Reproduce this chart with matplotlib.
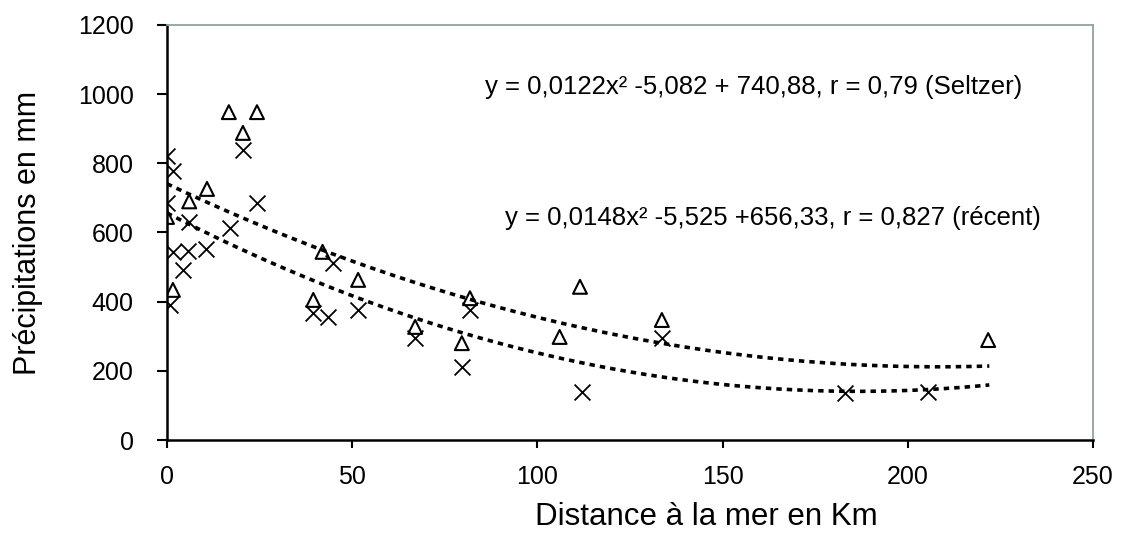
import numpy as np
import matplotlib
matplotlib.use("Agg")
import matplotlib.pyplot as plt

plt.rcParams['font.family'] = ['Liberation Sans', 'DejaVu Sans']

# Seltzer series (triangles)
seltzer_km = [0, 1.6, 6, 10.8, 16.7, 20.5, 24.3, 39.5, 42, 51.6, 67, 79.6, 81.8,
              106, 111.5, 133.6, 221.7]
seltzer_mm = [645, 434, 690, 726, 948, 888, 948, 405, 544, 463, 327, 280, 410,
              298, 443, 347, 289]

# recent series (crosses)
recent_km = [0, 1.6, 0, 5.9, 20.5, 24.3, 17, 1.6, 5.7, 10.5, 4.3, 0.8, 44.8,
             39.4, 43.5, 51.6, 81.8, 67, 79.6, 112, 133.6, 183, 205.5]
recent_mm = [821, 778, 685, 630, 839, 685, 613, 544, 547, 552, 492, 390, 512,
             367, 356, 376, 376, 295, 211, 139, 295, 136, 139]

# polynomial trend coefficients, as printed on the chart
seltzer_coef = [0.0122, -5.082, 740.88]
recent_coef = [0.0148, -5.525, 656.33]
trend_end = 222

fig = plt.figure(figsize=(11.26, 5.36), dpi=100)
ax = fig.add_axes([0.1483, 0.1791, 0.8224, 0.7743])

xs = np.linspace(0, trend_end, 200)
dash = (0, (1.5, 1.4))
ax.plot(xs, np.polyval(seltzer_coef, xs), color='black', lw=2.6, linestyle=dash)
ax.plot(xs, np.polyval(recent_coef, xs), color='black', lw=2.6, linestyle=dash)

ax.scatter(seltzer_km, seltzer_mm, marker='^', s=100, facecolors='none',
           edgecolors='black', linewidths=1.5, zorder=3)
ax.scatter(recent_km, recent_mm, marker='x', s=130, color='black',
           linewidths=1.3, zorder=3)

ax.set_xlim(0, 250)
ax.set_ylim(0, 1200)
ax.set_xticks(range(0, 251, 50))
ax.set_yticks(range(0, 1201, 200))

ax.spines['left'].set_linewidth(1.8)
ax.spines['bottom'].set_linewidth(1.8)
ax.spines['top'].set_color('#8fa3a3')
ax.spines['right'].set_color('#8fa3a3')
ax.spines['top'].set_linewidth(1.3)
ax.spines['right'].set_linewidth(1.3)

ax.tick_params(axis='y', direction='out', length=7, width=1.5, pad=17, labelsize=18)
ax.tick_params(axis='x', direction='out', length=6, width=1.5, pad=12, labelsize=18)

ax.set_xlabel('Distance à la mer en Km', fontsize=22.5)
ax.set_ylabel('Précipitations en mm', fontsize=22)
ax.xaxis.set_label_coords(0.582, -0.15)
ax.yaxis.set_label_coords(-0.134, 0.5)

ax.text(0.343, 0.851, 'y = 0,0122x² -5,082 + 740,88, r = 0,79 (Seltzer)',
        transform=ax.transAxes, fontsize=18.5, va='center', ha='left')
ax.text(0.365, 0.535, 'y = 0,0148x² -5,525 +656,33, r = 0,827 (récent)',
        transform=ax.transAxes, fontsize=18.5, va='center', ha='left')

fig.savefig('out.png', dpi=100, facecolor='white')
